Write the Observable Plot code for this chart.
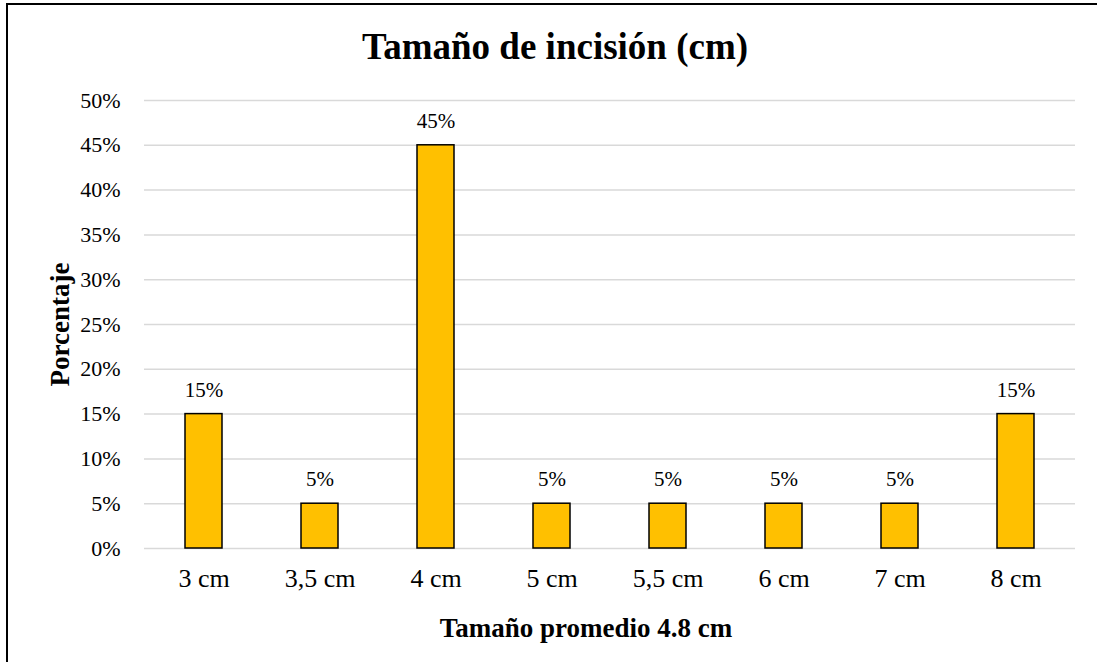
<!DOCTYPE html>
<html>
<head>
<meta charset="utf-8">
<script src="https://cdn.jsdelivr.net/npm/d3@7"></script>
<script src="https://cdn.jsdelivr.net/npm/@observablehq/plot@0.6"></script>
<style>
  html, body { margin: 0; padding: 0; background: #fff; overflow: hidden; }
  #page { position: relative; width: 1097px; height: 662px; overflow: hidden; font-family: "Liberation Serif", "Times New Roman", serif; }
  #frame { position: absolute; left: 6px; top: 3px; width: 1200px; height: 800px; border: 2px solid #000; box-sizing: border-box; }
  #title { position: absolute; left: 0; width: 1110px; top: 25px; text-align: center; font-weight: bold; font-size: 37px; line-height: 44px; color: #000; }
  #chart { position: absolute; left: 0; top: 70px; }
</style>
</head>
<body>
<div id="page">
  <div id="frame"></div>
  <div id="title">Tamaño de incisión (cm)</div>
  <div id="chart"></div>
</div>
<script>
// Incision size categories and share of patients (%)
const sizes = ["3 cm", "3,5 cm", "4 cm", "5 cm", "5,5 cm", "6 cm", "7 cm", "8 cm"];
const percents = [15, 5, 45, 5, 5, 5, 5, 15];
const yTicks = [0, 5, 10, 15, 20, 25, 30, 35, 40, 45, 50];
const yTitle = "Porcentaje";
const xTitle = "Tamaño promedio 4.8 cm";

const rows = sizes.map((size, i) => ({size, pct: percents[i]}));
const serif = "'Liberation Serif', 'Times New Roman', serif";

const chart = Plot.plot({
  width: 1097,
  height: 592,
  marginTop: 30,
  marginBottom: 114,
  marginLeft: 144,
  marginRight: 22,
  style: {fontFamily: serif, fontSize: "21px", color: "#000", background: "transparent"},
  x: {domain: sizes, paddingInner: 0.68, paddingOuter: 0.34, align: 0.5},
  y: {domain: [0, 50]},
  marks: [
    Plot.gridY(yTicks, {stroke: "#d9d9d9", strokeOpacity: 1, strokeWidth: 1.5}),
    Plot.barY(rows, {x: "size", y: "pct", fill: "#FFC000", stroke: "#000", strokeWidth: 1.5}),
    Plot.text(rows, {x: "size", y: "pct", text: d => `${d.pct}%`, dy: -24, fontSize: 21, fill: "#000"}),
    Plot.axisY(yTicks, {tickSize: 0, tickPadding: 24, tickFormat: d => `${d}%`, fontSize: 22, label: null}),
    Plot.axisX({tickSize: 0, tickPadding: 20, fontSize: 26, label: null}),
    // axis titles
    Plot.text([yTitle], {text: d => d, frameAnchor: "left", dx: -84, rotate: -90, textAnchor: "middle", fontSize: 27, fontWeight: "bold", fill: "#000", lineAnchor: "middle"}),
    Plot.text([xTitle], {text: d => d, frameAnchor: "bottom", dx: -24, dy: 80, textAnchor: "middle", fontSize: 27, fontWeight: "bold", fill: "#000", lineAnchor: "middle"})
  ]
});

document.getElementById("chart").appendChild(chart);
</script>
</body>
</html>
